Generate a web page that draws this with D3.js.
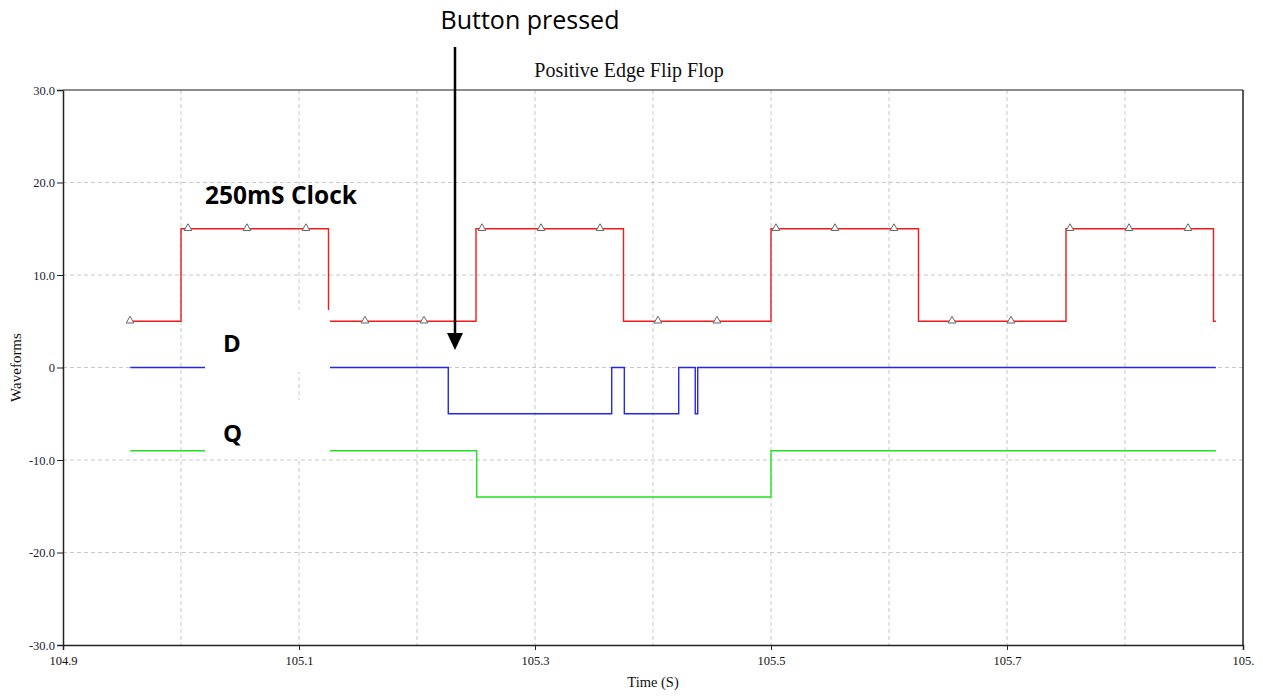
<!DOCTYPE html>
<html>
<head>
<meta charset="utf-8">
<script src="https://cdn.jsdelivr.net/npm/d3@7"></script>
<style>
	body { margin: 0; background: #fff; }
	svg { display: block; }
</style>
</head>
<body>
<div id="chart"></div>
<script>
//Dados
var clockT = [104.957, 105.0, 105.125, 105.25, 105.375, 105.5, 105.625, 105.75, 105.875, 105.877];
var clockV = [5, 15, 5, 15, 5, 15, 5, 15, 5, 5];
var dT = [104.957, 105.2265, 105.365, 105.3757, 105.4218, 105.4358, 105.4379, 105.877];
var dV = [0, -5, 0, -5, 0, -5, 0, 0];
var qT = [104.957, 105.2506, 105.5, 105.877];
var qV = [-9, -14, -9, -9];
var markerT = [104.9568, 105.0059, 105.0559, 105.1059, 105.1559, 105.2059, 105.2551, 105.3051, 105.3551, 105.4042,
	105.4542, 105.5042, 105.5542, 105.6042, 105.6534, 105.7034, 105.7534, 105.8034, 105.8534];
var markerV = [5, 15, 15, 15, 5, 5, 15, 15, 15, 5, 5, 15, 15, 15, 5, 5, 15, 15, 15];
var xGrid = [104.9, 105.0, 105.1, 105.2, 105.3, 105.4, 105.5, 105.6, 105.7, 105.8, 105.9];
var xLabels = ["104.9", "", "105.1", "", "105.3", "", "105.5", "", "105.7", "", "105."];
var yGrid = [30, 20, 10, 0, -10, -20, -30];
var yLabels = ["30.0", "20.0", "10.0", "0", "-10.0", "-20.0", "-30.0"];

(function () {
	'use strict';
	var W = 1263, H = 698;
	var margin = {top: 90, right: 20, bottom: 53, left: 63};
	var width = W - margin.left - margin.right;
	var height = H - margin.top - margin.bottom;
	var serif = "'Liberation Serif', 'Times New Roman', serif";
	var sans = "'Open Sans', 'Noto Sans', sans-serif";

	var svg = d3.select("#chart").append("svg")
		.attr("width", W)
		.attr("height", H);
	var g = svg.append("g")
		.attr("transform", "translate(" + margin.left + "," + margin.top + ")");

	//Escalas
	var x = d3.scaleLinear().domain([104.9, 105.9]).range([0, width]);
	var y = d3.scaleLinear().domain([-30, 30]).range([height, 0]);

	//Grade
	g.append("g").selectAll("line")
		.data(xGrid.slice(1, -1))
		.enter().append("line")
		.attr("x1", function(d) { return x(d); })
		.attr("x2", function(d) { return x(d); })
		.attr("y1", 0).attr("y2", height)
		.attr("stroke", "#c8c8c8")
		.attr("stroke-dasharray", "4,3");
	g.append("g").selectAll("line")
		.data(yGrid.slice(1, -1))
		.enter().append("line")
		.attr("x1", 0).attr("x2", width)
		.attr("y1", function(d) { return y(d); })
		.attr("y2", function(d) { return y(d); })
		.attr("stroke", "#c8c8c8")
		.attr("stroke-dasharray", "4,3");

	//Eixos
	var axisX = d3.axisBottom(x)
		.tickValues(xGrid)
		.tickSize(5)
		.tickFormat(function(d, i) { return xLabels[i]; });
	var gx = g.append("g")
		.attr("transform", "translate(0," + height + ")")
		.call(axisX);
	gx.selectAll(".tick line").attr("stroke", function(d, i) { return xLabels[i] ? "#222" : "none"; });
	gx.selectAll("text")
		.attr("dy", "0.95em")
		.style("font-family", serif)
		.style("font-size", "12.5px")
		.attr("fill", "#111");
	gx.select(".domain").attr("stroke", "#222").attr("stroke-width", 1.5);

	var axisY = d3.axisLeft(y)
		.tickValues(yGrid)
		.tickSize(6)
		.tickFormat(function(d, i) { return yLabels[i]; });
	var gy = g.append("g").call(axisY);
	gy.selectAll(".tick line").attr("stroke", "#222");
	gy.selectAll("text")
		.attr("x", -8)
		.style("font-family", serif)
		.style("font-size", "12.5px")
		.attr("fill", "#1a1a33");
	gy.select(".domain").attr("stroke", "#222").attr("stroke-width", 1.5);

	//Moldura topo/direita
	g.append("line").attr("x1", 0).attr("x2", width).attr("y1", 0).attr("y2", 0)
		.attr("stroke", "#666").attr("stroke-width", 1.5);
	g.append("line").attr("x1", width).attr("x2", width).attr("y1", 0).attr("y2", height)
		.attr("stroke", "#222").attr("stroke-width", 1.5);

	//Linhas
	var line = d3.line()
		.x(function(d) { return x(d[0]); })
		.y(function(d) { return y(d[1]); })
		.curve(d3.curveStepAfter);
	function zip(t, v) { return t.map(function(d, i) { return [d, v[i]]; }); }
	var series = [
		{name: "clock", values: zip(clockT, clockV), color: "#f21a1a"},
		{name: "D", values: zip(dT, dV), color: "#2626f2"},
		{name: "Q", values: zip(qT, qV), color: "#22e022"}
	];
	g.selectAll(".series")
		.data(series)
		.enter().append("path")
		.attr("class", "series")
		.attr("fill", "none")
		.attr("stroke", function(d) { return d.color; })
		.attr("stroke-width", 1.4)
		.attr("d", function(d) { return line(d.values); });

	//Marcadores do clock
	var tri = d3.symbol().type(d3.symbolTriangle).size(26);
	g.selectAll(".marker")
		.data(zip(markerT, markerV))
		.enter().append("path")
		.attr("class", "marker")
		.attr("d", tri)
		.attr("transform", function(d) { return "translate(" + x(d[0]) + "," + (y(d[1]) - 0.5) + ")"; })
		.attr("fill", "#fff")
		.attr("stroke", "#666")
		.attr("stroke-width", 1);

	//Caixas brancas dos rotulos
	svg.append("rect").attr("x", 205).attr("y", 310).attr("width", 125).attr("height", 62).attr("fill", "#fff");
	svg.append("rect").attr("x", 205).attr("y", 400).attr("width", 125).attr("height", 57).attr("fill", "#fff");

	//Textos
	svg.append("text")
		.attr("x", 629).attr("y", 77)
		.attr("text-anchor", "middle")
		.style("font-family", serif).style("font-size", "20px")
		.attr("fill", "#111")
		.text("Positive Edge Flip Flop");
	svg.append("text")
		.attr("x", margin.left + width / 2).attr("y", 687)
		.attr("text-anchor", "middle")
		.style("font-family", serif).style("font-size", "14.5px")
		.attr("fill", "#111")
		.text("Time (S)");
	svg.append("text")
		.attr("transform", "translate(21," + (margin.top + height / 2) + ") rotate(-90)")
		.attr("text-anchor", "middle")
		.style("font-family", serif).style("font-size", "15px")
		.attr("fill", "#111")
		.text("Waveforms");

	svg.append("text")
		.attr("x", 530).attr("y", 29)
		.attr("text-anchor", "middle")
		.style("font-family", sans).style("font-size", "25px")
		.attr("fill", "#000")
		.text("Button pressed");
	svg.append("line")
		.attr("x1", 455).attr("x2", 455).attr("y1", 47).attr("y2", 336)
		.attr("stroke", "#000").attr("stroke-width", 2.5);
	svg.append("path")
		.attr("d", "M447,333 L463,333 L455,350 Z")
		.attr("fill", "#000");

	svg.append("text")
		.attr("x", 205).attr("y", 204)
		.style("font-family", sans).style("font-size", "24.5px").style("font-weight", "bold")
		.attr("fill", "#000")
		.text("250mS Clock");
	svg.append("text")
		.attr("x", 223).attr("y", 352)
		.style("font-family", sans).style("font-size", "24px").style("font-weight", "bold")
		.attr("fill", "#000")
		.text("D");
	svg.append("text")
		.attr("x", 223).attr("y", 442)
		.style("font-family", sans).style("font-size", "24px").style("font-weight", "bold")
		.attr("fill", "#000")
		.text("Q");
}());
</script>
</body>
</html>
